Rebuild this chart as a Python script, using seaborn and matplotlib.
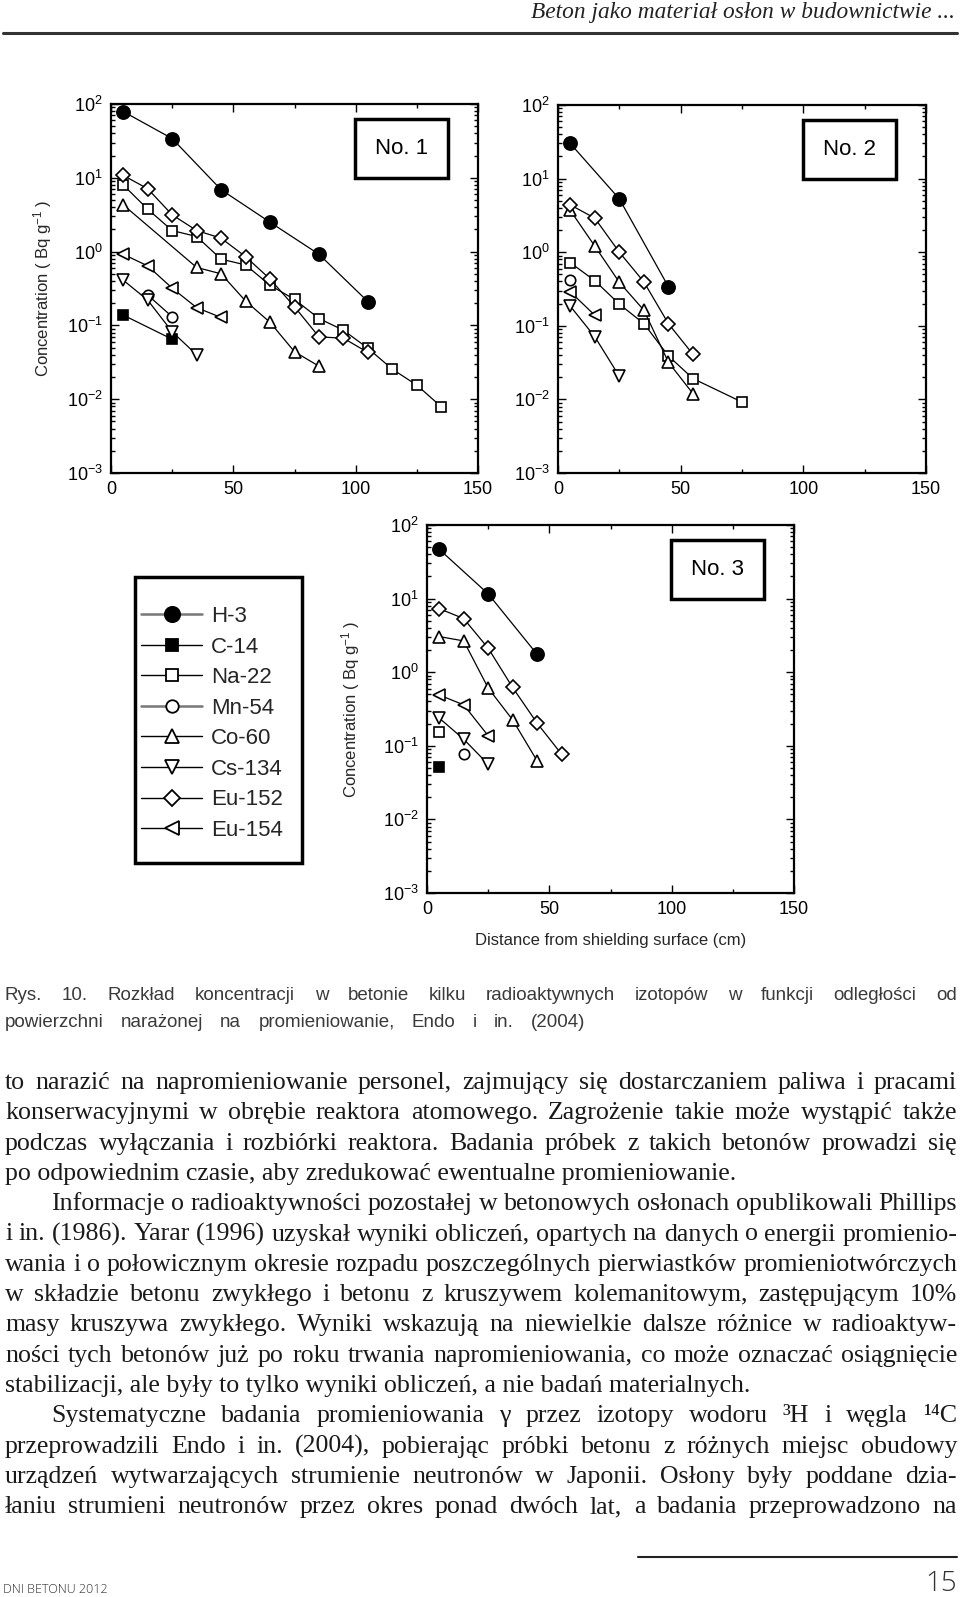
import numpy as np
import matplotlib
matplotlib.use("Agg")
import matplotlib.pyplot as plt
import seaborn as sns
from matplotlib.patches import Rectangle
from matplotlib.lines import Line2D
from matplotlib.ticker import LogLocator, FixedLocator, NullFormatter

# ---------------- data ----------------
ISOTOPES = ["H-3", "C-14", "Na-22", "Mn-54", "Co-60", "Cs-134", "Eu-152", "Eu-154"]

# distance (cm) -> concentration (Bq/g), panel "No. 1"
NO1 = {
    "H-3":    ([5, 25, 45, 65, 85, 105], [79, 34, 6.9, 2.5, 0.92, 0.21]),
    "C-14":   ([5, 25], [0.138, 0.065]),
    "Na-22":  ([5, 15, 25, 35, 45, 55, 65, 75, 85, 95, 105, 115, 125, 135],
               [8.0, 3.76, 1.93, 1.6, 0.79, 0.66, 0.35, 0.225, 0.124, 0.086, 0.049, 0.0255, 0.0155, 0.0079]),
    "Mn-54":  ([15, 25], [0.258, 0.131]),
    "Co-60":  ([5, 35, 45, 55, 65, 75, 85], [4.3, 0.61, 0.50, 0.214, 0.11, 0.044, 0.028]),
    "Cs-134": ([5, 15, 25, 35], [0.41, 0.22, 0.082, 0.040]),
    "Eu-152": ([5, 15, 25, 35, 45, 55, 65, 75, 85, 95, 105],
               [10.8, 7.1, 3.15, 1.93, 1.52, 0.855, 0.425, 0.179, 0.070, 0.067, 0.043]),
    "Eu-154": ([5, 15, 25, 35, 45], [0.92, 0.64, 0.32, 0.174, 0.128]),
}
# panel "No. 2"
NO2 = {
    "H-3":    ([5, 25, 45], [30, 5.3, 0.34]),
    "Na-22":  ([5, 15, 25, 35, 45, 55, 75], [0.72, 0.41, 0.197, 0.107, 0.039, 0.0192, 0.0092]),
    "Mn-54":  ([5], [0.42]),
    "Co-60":  ([5, 15, 25, 35, 45, 55], [3.7, 1.21, 0.39, 0.163, 0.032, 0.012]),
    "Cs-134": ([5, 15, 25], [0.185, 0.071, 0.0206]),
    "Eu-152": ([5, 15, 25, 35, 45, 55], [4.4, 2.9, 1.0, 0.395, 0.107, 0.041]),
    "Eu-154": ([5, 15], [0.29, 0.139]),
}
# panel "No. 3"
NO3 = {
    "H-3":    ([5, 25, 45], [46.7, 11.6, 1.75]),
    "C-14":   ([5], [0.051]),
    "Na-22":  ([5], [0.153]),
    "Mn-54":  ([15], [0.077]),
    "Co-60":  ([5, 15, 25, 35, 45], [3.05, 2.66, 0.61, 0.225, 0.0625]),
    "Cs-134": ([5, 15, 25], [0.238, 0.123, 0.056]),
    "Eu-152": ([5, 15, 25, 35, 45, 55], [7.3, 5.35, 2.12, 0.62, 0.203, 0.077]),
    "Eu-154": ([5, 15, 25], [0.49, 0.36, 0.137]),
}
PANEL_TITLES = ["No. 1", "No. 2", "No. 3"]
X_TICKS = [0, 50, 100, 150]
Y_LABEL = "Concentration ( Bq g$^{-1}$ )"
X_LABEL = "Distance from shielding surface (cm)"

HEADER = "Beton jako materiał osłon w budownictwie ..."
CAPTION = [
    "Rys. 10. Rozkład koncentracji w betonie kilku radioaktywnych izotopów w funkcji odległości od",
    "powierzchni narażonej na promieniowanie, Endo i in. (2004)",
]
BODY = [
    "to narazić na napromieniowanie personel, zajmujący się dostarczaniem paliwa i pracami",
    "konserwacyjnymi w obrębie reaktora atomowego. Zagrożenie takie może wystąpić także",
    "podczas wyłączania i rozbiórki reaktora. Badania próbek z takich betonów prowadzi się",
    "po odpowiednim czasie, aby zredukować ewentualne promieniowanie.",
    "Informacje o radioaktywności pozostałej w betonowych osłonach opublikowali Phillips",
    "i in. (1986). Yarar (1996) uzyskał wyniki obliczeń, opartych na danych o energii promienio-",
    "wania i o połowicznym okresie rozpadu poszczególnych pierwiastków promieniotwórczych",
    "w składzie betonu zwykłego i betonu z kruszywem kolemanitowym, zastępującym 10%",
    "masy kruszywa zwykłego. Wyniki wskazują na niewielkie dalsze różnice w radioaktyw-",
    "ności tych betonów już po roku trwania napromieniowania, co może oznaczać osiągnięcie",
    "stabilizacji, ale były to tylko wyniki obliczeń, a nie badań materialnych.",
    "Systematyczne badania promieniowania γ przez izotopy wodoru ³H i węgla ¹⁴C",
    "przeprowadzili Endo i in. (2004), pobierając próbki betonu z różnych miejsc obudowy",
    "urządzeń wytwarzających strumienie neutronów w Japonii. Osłony były poddane dzia-",
    "łaniu strumieni neutronów przez okres ponad dwóch lat, a badania przeprowadzono na",
]
FOOTER_LEFT = "DNI BETONU 2012"
PAGE_NO = "15"

# ---------------- styles ----------------
STYLE = {  # marker, filled, size
    "H-3": ("o", True, 9.5),
    "C-14": ("s", True, 7.5),
    "Na-22": ("s", False, 7.5),
    "Mn-54": ("o", False, 7.5),
    "Co-60": ("^", False, 8.5),
    "Cs-134": ("v", False, 8.5),
    "Eu-152": ("D", False, 7.0),
    "Eu-154": ("<", False, 8.5),
}

sns.set_style("ticks")
plt.rcParams["font.family"] = ["Liberation Sans", "DejaVu Sans"]
plt.rcParams["mathtext.fontset"] = "custom"
plt.rcParams["mathtext.rm"] = "Liberation Sans"
plt.rcParams["mathtext.it"] = "Liberation Sans:italic"
plt.rcParams["mathtext.default"] = "regular"

W, H = 960, 1597
fig = plt.figure(figsize=(W / 100, H / 100), dpi=100)
fig.patch.set_facecolor("white")


def px_axes(l, t, r, b):
    return fig.add_axes([l / W, 1 - b / H, (r - l) / W, (b - t) / H])


ax1 = px_axes(111, 104, 478, 473)
ax2 = px_axes(558, 105, 926, 473)
ax3 = px_axes(427, 525, 794, 893)
axes = [ax1, ax2, ax3]

for ax, data, title in zip(axes, [NO1, NO2, NO3], PANEL_TITLES):
    ax.set_yscale("log")
    for iso in ISOTOPES:
        if iso not in data:
            continue
        xs, ys = data[iso]
        m, filled, ms = STYLE[iso]
        sns.lineplot(x=xs, y=ys, ax=ax, color="black", linewidth=0.9,
                     marker=m, markersize=ms,
                     markerfacecolor="black" if filled else "white",
                     markeredgecolor="black", markeredgewidth=1.2,
                     legend=False, sort=False, zorder=3)
    ax.set_xlim(0, 150)
    ax.set_ylim(1e-3, 1e2)
    ax.set_xticks(X_TICKS)
    ax.xaxis.set_minor_locator(FixedLocator([25, 75, 125]))
    ax.yaxis.set_major_locator(LogLocator(base=10, numticks=10))
    ax.yaxis.set_minor_locator(LogLocator(base=10, subs=np.arange(2, 10), numticks=30))
    ax.yaxis.set_minor_formatter(NullFormatter())
    ax.tick_params(which="both", direction="in", top=True, right=True, width=1.0, colors="black")
    ax.tick_params(which="major", length=6, labelsize=13, pad=6)
    ax.tick_params(which="minor", length=3)
    for s in ax.spines.values():
        s.set_linewidth(1.6)
        s.set_color("black")
    ax.set_xlabel("")
    ax.set_ylabel("")
    ax.add_patch(Rectangle((0.666, 0.80), 0.252, 0.16, transform=ax.transAxes,
                           fill=False, lw=2.5, ec="black", zorder=5))
    ax.text(0.792, 0.88, title, transform=ax.transAxes, ha="center", va="center",
            fontsize=16, color="black", zorder=6)

ax1.set_ylabel(Y_LABEL, fontsize=12)
ax1.yaxis.set_label_coords(-0.155, 0.5)
ax3.set_ylabel(Y_LABEL, fontsize=12)
ax3.yaxis.set_label_coords(-0.177, 0.5)
ax3.set_xlabel(X_LABEL, fontsize=12)
ax3.xaxis.set_label_coords(0.5, -0.109)

# legend box
handles = []
for iso in ISOTOPES:
    m, filled, ms = STYLE[iso]
    lc = "#777777" if iso in ("H-3", "Mn-54") else "black"
    lw = 1.8 if iso in ("H-3", "Mn-54") else 1.0
    handles.append(Line2D([], [], color=lc, lw=lw, marker=m, markersize=ms + 1.5,
                          markerfacecolor="black" if filled else "white",
                          markeredgecolor="black", markeredgewidth=1.3))
fig.legend(handles, ISOTOPES, loc="upper left", bbox_to_anchor=(141 / W, 1 - 606 / H),
           frameon=False, borderpad=0, borderaxespad=0, handlelength=2.75,
           handletextpad=0.4, labelspacing=0.43, fontsize=16)
fig.add_artist(Rectangle((135 / W, 1 - 863 / H), 167 / W, 286 / H, transform=fig.transFigure,
                         fill=False, lw=2.5, ec="black"))

# ---------------- page text ----------------
fig.canvas.draw()
renderer = fig.canvas.get_renderer()


def measure(s, **kw):
    t = fig.text(0, 0, s, **kw)
    wd = t.get_window_extent(renderer).width
    t.remove()
    return wd


def put_line(text, x0, x1, ybase, justify, **kw):
    words = text.split()
    if not justify or len(words) < 2:
        fig.text(x0 / W, 1 - ybase / H, text, ha="left", va="baseline", **kw)
        return
    ws = [measure(w_, **kw) for w_ in words]
    gap = (x1 - x0 - sum(ws)) / (len(words) - 1)
    x = x0
    for w_, wd in zip(words, ws):
        fig.text(x / W, 1 - ybase / H, w_, ha="left", va="baseline", **kw)
        x += wd + gap


serif = ["Liberation Serif", "DejaVu Serif"]
# header
hkw = dict(family=serif, style="italic", color="#222222")
hfs = 16 * 424 / measure(HEADER, fontsize=16, **hkw)
fig.text(955 / W, 1 - 18 / H, HEADER, ha="right", va="baseline", fontsize=hfs, **hkw)
fig.add_artist(Line2D([3 / W, 957 / W], [1 - 33 / H, 1 - 33 / H], transform=fig.transFigure,
                      color="#333333", lw=2.2))

# caption
ckw = dict(family=["Liberation Sans", "DejaVu Sans"], color="#3a3a3a", fontsize=13.5)
put_line(CAPTION[0], 5, 957, 1000, True, **ckw)
put_line(CAPTION[1], 5, 585, 1027, True, **ckw)

# body: choose a size so every justified line keeps a minimal word gap
bkw = dict(family=serif, color="#1a1a1a")
last_lines = {3, 10}
indented = {4, 11}
S0 = 15.0
size_cands = [S0 * 776 / measure(BODY[3], fontsize=S0, **bkw)]
for i, line in enumerate(BODY):
    if i in last_lines:
        continue
    words = line.split()
    k = sum(measure(w_, fontsize=S0, **bkw) for w_ in words) / S0
    L = 957 - (51 if i in indented else 5)
    size_cands.append(L / (k + (len(words) - 1) * 0.24 * 100 / 72))
bkw["fontsize"] = min(size_cands)
for i, line in enumerate(BODY):
    yb = 1089 + 30.3 * i
    x0 = 51 if i in indented else 5
    put_line(line, x0, 957, yb, i not in last_lines, **bkw)

# footer
fig.add_artist(Line2D([638 / W, 957 / W], [1 - 1557 / H, 1 - 1557 / H], transform=fig.transFigure,
                      color="#222222", lw=1.5))
fkw = dict(family=["Open Sans", "DejaVu Sans"], fontweight="light", color="#333333")
fig.text(3 / W, 1 - 1593 / H, FOOTER_LEFT, ha="left", va="baseline", fontsize=9, **fkw)
fig.text(957 / W, 1 - 1591 / H, PAGE_NO, ha="right", va="baseline", fontsize=20, **fkw)

fig.savefig("out.png", dpi=100, facecolor="white")
